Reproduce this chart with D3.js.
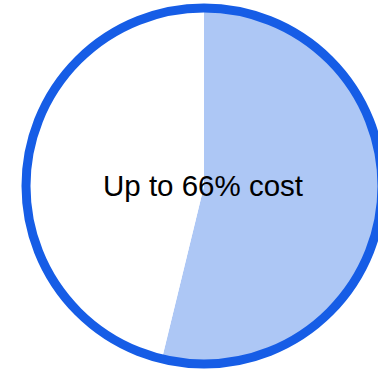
<!DOCTYPE html>
<html>
<head>
<meta charset="utf-8">
<script src="https://cdn.jsdelivr.net/npm/d3@7"></script>
<style>
  body { margin: 0; background: #fff; }
  svg { display: block; }
</style>
</head>
<body>
<div class="chart"></div>
<script>
const width = 378;
const height = 370;

// slice data (share of the circle)
const labels = ['cost', 'rest'];
const values = [53.8, 46.2];
const colors = ['#adc7f5', '#ffffff'];
const caption = 'Up to 66% cost';

const cx = 204, cy = 186, radius = 178;

const svg = d3.select('.chart').append('svg')
    .attr('width', width)
    .attr('height', height);

const chart = svg.append('g')
    .attr('transform', `translate(${cx}, ${cy})`);

const pie = d3.pie().sort(null).value(d => d.value);
const arc = d3.arc().innerRadius(0).outerRadius(radius);

const slices = pie(labels.map((l, i) => ({ label: l, value: values[i] })));

chart.selectAll('path.slice')
    .data(slices)
    .enter()
    .append('path')
    .attr('class', 'slice')
    .attr('d', arc)
    .attr('fill', (d, i) => colors[i]);

/* outer ring */
chart.append('circle')
    .attr('r', radius)
    .attr('fill', 'none')
    .attr('stroke', '#165de6')
    .attr('stroke-width', 9);

chart.append('text')
    .attr('x', -1)
    .attr('y', 10)
    .attr('text-anchor', 'middle')
    .attr('font-family', 'Liberation Sans, Arial, sans-serif')
    .attr('font-size', 29.5)
    .attr('fill', '#000')
    .text(caption);
</script>
</body>
</html>
